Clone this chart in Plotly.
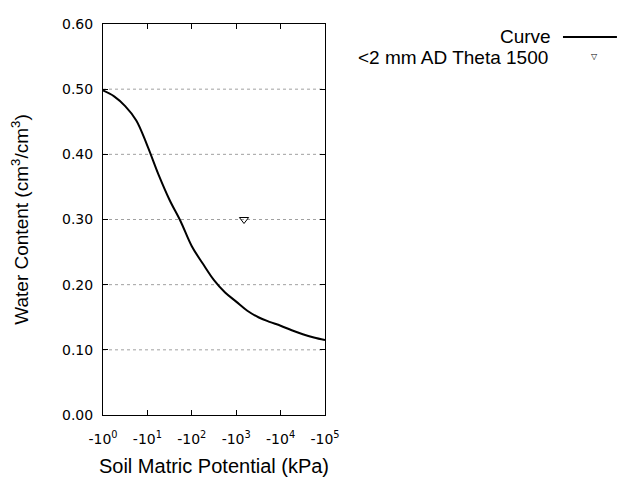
import plotly.graph_objects as go

# Soil matric potential magnitude (kPa) and water content
curve_kpa = [1, 1.78, 3.16, 5.62, 10, 17.8, 31.6, 56.2, 100, 178, 316, 562, 1000,
             1780, 3160, 5620, 10000, 17800, 31600, 56200, 100000]
curve_theta = [0.498, 0.489, 0.474, 0.452, 0.413, 0.369, 0.330, 0.297, 0.259, 0.232,
               0.207, 0.188, 0.174, 0.160, 0.150, 0.143, 0.137, 0.130, 0.124, 0.119, 0.115]

point_kpa = [1500]
point_theta = [0.30]

tick_vals = [1, 10, 100, 1000, 10000, 100000]
tick_text = ["-10<sup>0</sup>", "-10<sup>1</sup>", "-10<sup>2</sup>", "-10<sup>3</sup>",
             "-10<sup>4</sup>", "-10<sup>5</sup>"]
y_ticks = [0.0, 0.1, 0.2, 0.3, 0.4, 0.5, 0.6]

FONT = "Liberation Sans, Arial, sans-serif"
TICKFONT = dict(family="DejaVu Sans", size=14, color="black")

fig = go.Figure()
fig.add_trace(go.Scatter(x=curve_kpa, y=curve_theta, mode="lines",
                         line=dict(color="black", width=2, shape="spline"),
                         name="Curve", showlegend=False))
fig.add_trace(go.Scatter(x=point_kpa, y=point_theta, mode="markers",
                         marker=dict(symbol="triangle-down-open", size=8, color="black",
                                     line=dict(width=1, color="black")),
                         name="<2 mm AD Theta 1500", showlegend=False))

# horizontal dotted grid lines (interior only)
for v in y_ticks[1:-1]:
    fig.add_shape(type="line", xref="paper", yref="y", x0=0, x1=1, y0=v, y1=v,
                  line=dict(color="#a0a0a0", width=1, dash="dot"), layer="below")

# custom gnuplot-style legend (text right-aligned, key on the right)
fig.add_annotation(xref="paper", yref="paper", x=2.027, y=0.969, xanchor="right",
                   yanchor="middle", text="Curve", showarrow=False,
                   font=dict(family=FONT, size=19, color="black"))
fig.add_shape(type="line", xref="paper", yref="paper", x0=2.072, x1=2.315,
              y0=0.967, y1=0.967, line=dict(color="black", width=2))
fig.add_annotation(xref="paper", yref="paper", x=2.015, y=0.914, xanchor="right",
                   yanchor="middle", text="&lt;2 mm AD Theta 1500", showarrow=False,
                   font=dict(family=FONT, size=19, color="black"))
fig.add_annotation(xref="paper", yref="paper", x=2.212, y=0.917, xanchor="center",
                   yanchor="middle", text="▽", showarrow=False,
                   font=dict(family="DejaVu Sans", size=8, color="black"))

fig.update_layout(
    width=632, height=472,
    margin=dict(l=95, r=315, t=16, b=65, autoexpand=False),
    paper_bgcolor="white", plot_bgcolor="white",
    font=dict(family=FONT, color="black"),
    showlegend=False,
    xaxis=dict(type="log", range=[0, 5], tickvals=tick_vals, ticktext=tick_text,
               ticks="inside", ticklen=5, tickcolor="black", mirror="ticks",
               showline=True, linecolor="black", linewidth=1, showgrid=False,
               zeroline=False, tickfont=TICKFONT, ticklabelstandoff=11,
               automargin=False,
               title=dict(text="Soil Matric Potential (kPa)", standoff=13,
                          font=dict(family=FONT, size=20, color="black"))),
    yaxis=dict(range=[0, 0.6], tickvals=y_ticks, tickformat=".2f",
               ticks="inside", ticklen=5, tickcolor="black", mirror="ticks",
               showline=True, linecolor="black", linewidth=1, showgrid=False,
               zeroline=False, tickfont=TICKFONT, ticklabelstandoff=6,
               automargin=False,
               title=dict(text="Water Content (cm<sup>3</sup>/cm<sup>3</sup>)", standoff=30,
                          font=dict(family=FONT, size=19, color="black"))),
)

fig.write_html("out.html")
